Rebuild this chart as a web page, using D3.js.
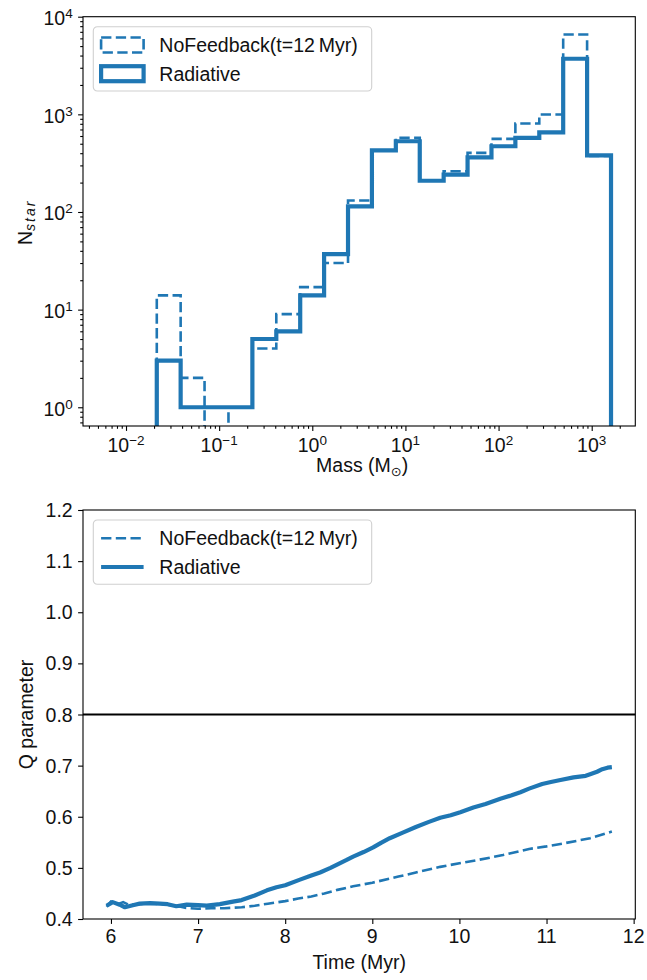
<!DOCTYPE html>
<html>
<head>
<meta charset="utf-8">
<script src="https://cdn.jsdelivr.net/npm/d3@7"></script>
<style>
  html, body { margin: 0; padding: 0; background: #fff; }
  svg { display: block; font-family: "Liberation Sans", Arial, Helvetica, sans-serif; }
</style>
</head>
<body>
<svg id="chart" width="647" height="980"></svg>
<script>
// ---------------- DATA ----------------
// Histogram bin edges (solar masses, log-spaced)
const binEdges = [0.0214, 0.0386, 0.0697, 0.1259, 0.2274, 0.4107, 0.7417, 1.339, 2.419, 4.369,
                  7.889, 14.25, 25.73, 46.47, 83.9, 151.5, 273.6, 494.1, 892.3, 1612];
// Counts per bin
const radiativeCounts  = [3, 1, 1, 1, 5, 6, 14, 37, 114, 428, 530, 209, 241, 363, 471, 574, 655, 3710, 380];
const noFeedbackCounts = [14, 2, 0, 1, 4, 9, 17, 30, 131, 425, 574, 210, 261, 403, 561, 805, 995, 6580, 375];

const massMajorTicks = [0.01, 0.1, 1, 10, 100, 1000];
const massTickExp = ["−2", "−1", "0", "1", "2", "3"];
const countMajorTicks = [1, 10, 100, 1000, 10000];
const countTickExp = ["0", "1", "2", "3", "4"];

// Q parameter time series
const radTime = [5.95, 6.02, 6.1, 6.16, 6.25, 6.33, 6.45, 6.56, 6.65, 6.75, 6.87, 7.0, 7.1, 7.25, 7.4, 7.5,
                 7.65, 7.79, 7.9, 8.0, 8.17, 8.3, 8.4, 8.52, 8.59, 8.7, 8.78, 8.9, 9.01, 9.1, 9.2, 9.35,
                 9.5, 9.65, 9.78, 9.9, 10.01, 10.16, 10.3, 10.47, 10.6, 10.7, 10.8, 10.95, 11.05, 11.16,
                 11.31, 11.45, 11.5, 11.58, 11.64, 11.7, 11.75];
const radQ = [0.426, 0.433, 0.428, 0.423, 0.427, 0.430, 0.431, 0.430, 0.429, 0.425, 0.428, 0.427, 0.426,
              0.429, 0.434, 0.437, 0.446, 0.456, 0.462, 0.466, 0.477, 0.485, 0.491, 0.500, 0.506, 0.515,
              0.522, 0.531, 0.540, 0.549, 0.558, 0.569, 0.580, 0.590, 0.598, 0.603, 0.609, 0.618, 0.625,
              0.635, 0.642, 0.648, 0.655, 0.664, 0.668, 0.672, 0.677, 0.680, 0.683, 0.688, 0.693, 0.696, 0.697];
const noFbTime = [5.95, 6.0, 6.08, 6.14, 6.2, 6.3, 6.45, 6.6, 6.75, 6.85, 7.0, 7.15, 7.3, 7.5, 7.65, 7.8,
                  8.0, 8.15, 8.3, 8.45, 8.6, 8.78, 9.0, 9.3, 9.5, 9.78, 10.0, 10.2, 10.5, 10.8, 11.0, 11.2,
                  11.5, 11.75];
const noFbQ = [0.424, 0.434, 0.429, 0.433, 0.428, 0.429, 0.430, 0.429, 0.426, 0.422, 0.420, 0.421, 0.421,
               0.423, 0.426, 0.430, 0.435, 0.440, 0.444, 0.450, 0.457, 0.464, 0.471, 0.483, 0.491, 0.502,
               0.509, 0.515, 0.525, 0.537, 0.542, 0.548, 0.558, 0.571];
const timeTicks = [6, 7, 8, 9, 10, 11, 12];
const qTicks = [0.4, 0.5, 0.6, 0.7, 0.8, 0.9, 1.0, 1.1, 1.2];
const qThreshold = 0.8;

const legendLabels = ["NoFeedback(t=12\u2009Myr)", "Radiative"];

// ---------------- STYLE ----------------
const blue = "#1f77b4";
const fontSize = 19.5;
const supSize = 13.5;
const majorLen = 4.9, minorLen = 2.8, tickW = 1.1;

const svg = d3.select("#chart");

function styleAxis(g) {
  g.select(".domain").remove();
  g.selectAll(".tick line").attr("stroke", "#000").attr("stroke-width", tickW);
  g.selectAll(".tick text").remove();
}

function frame(g, w, h) {
  g.append("rect").attr("x", 0).attr("y", 0).attr("width", w).attr("height", h)
    .attr("fill", "none").attr("stroke", "#000").attr("stroke-width", 1.1);
}

function legend(g, kind) {
  const lg = g.append("g").attr("transform", "translate(10.3,10)");
  lg.append("rect").attr("x", 0).attr("y", 0).attr("width", 278.4).attr("height", kind === "hist" ? 64.3 : 64.3)
    .attr("rx", 4).attr("ry", 4).attr("fill", "#fff").attr("fill-opacity", 0.8)
    .attr("stroke", "#d0d0d0").attr("stroke-width", 1.1);
  const rowsY = [18.3, 47];
  legendLabels.forEach((lab, i) => {
    const cy = rowsY[i];
    if (kind === "hist") {
      lg.append("rect").attr("x", 7.8).attr("y", cy - 7.5).attr("width", 42.5).attr("height", 15)
        .attr("fill", "none").attr("stroke", blue)
        .attr("stroke-width", i === 0 ? 2.6 : 4.2)
        .attr("stroke-dasharray", i === 0 ? "10.3,4.4" : null);
    } else {
      lg.append("line").attr("x1", 7.8).attr("x2", 50.3).attr("y1", cy).attr("y2", cy)
        .attr("stroke", blue).attr("stroke-width", i === 0 ? 2.6 : 4.2)
        .attr("stroke-dasharray", i === 0 ? "10.3,4.4" : null);
    }
    lg.append("text").attr("x", 66).attr("y", cy + 7).attr("font-size", fontSize).attr("fill", "#111").text(lab);
  });
}

// ================= TOP: HISTOGRAM =================
(function () {
  const L = 83, T = 16.7, R = 635.3, B = 426;
  const w = R - L, h = B - T;
  const g = svg.append("g").attr("transform", `translate(${L},${T})`);
  const x = d3.scaleLog().domain([0.003453, 2938]).range([0, w]);
  const y = d3.scaleLog().domain([0.643, 10000]).range([h, 0]);

  g.append("clipPath").attr("id", "clipTop").append("rect").attr("width", w).attr("height", h);

  // Minor ticks
  const xMinor = [];
  for (let e = -3; e <= 3; e++) for (let m = 2; m <= 9; m++) {
    const v = m * Math.pow(10, e);
    if (v >= x.domain()[0] && v <= x.domain()[1]) xMinor.push(v);
  }
  const yMinor = [];
  for (let e = -1; e <= 3; e++) for (let m = 2; m <= 9; m++) {
    const v = m * Math.pow(10, e);
    if (v >= y.domain()[0] && v <= y.domain()[1]) yMinor.push(v);
  }
  g.append("g").attr("transform", `translate(0,${h})`)
    .call(d3.axisBottom(x).tickValues(xMinor).tickSize(minorLen).tickFormat("")).call(styleAxis);
  g.append("g").call(d3.axisLeft(y).tickValues(yMinor).tickSize(minorLen).tickFormat("")).call(styleAxis);
  g.append("g").attr("transform", `translate(0,${h})`)
    .call(d3.axisBottom(x).tickValues(massMajorTicks).tickSize(majorLen).tickFormat("")).call(styleAxis);
  g.append("g").call(d3.axisLeft(y).tickValues(countMajorTicks).tickSize(majorLen).tickFormat("")).call(styleAxis);

  // Tick labels with superscripts
  massMajorTicks.forEach((v, i) => {
    const t = g.append("text").attr("x", x(v)).attr("y", h + 25.7).attr("text-anchor", "middle")
      .attr("font-size", fontSize).attr("fill", "#111");
    t.append("tspan").text("10");
    t.append("tspan").attr("dy", -7).attr("font-size", supSize).text(massTickExp[i]);
  });
  countMajorTicks.forEach((v, i) => {
    const t = g.append("text").attr("x", -10.3).attr("y", y(v) + 8.3).attr("text-anchor", "end")
      .attr("font-size", fontSize).attr("fill", "#111");
    t.append("tspan").text("10");
    t.append("tspan").attr("dy", -7).attr("font-size", supSize).text(countTickExp[i]);
  });

  // Step paths
  function stepPts(counts) {
    const pts = [[binEdges[0], 0]];
    counts.forEach((c, i) => { pts.push([binEdges[i], c]); pts.push([binEdges[i + 1], c]); });
    pts.push([binEdges[binEdges.length - 1], 0]);
    return pts;
  }
  const line = d3.line().x(d => x(d[0])).y(d => d[1] > 0 ? y(d[1]) : h + 30);
  const plot = g.append("g").attr("clip-path", "url(#clipTop)");
  plot.append("path").attr("d", line(stepPts(noFeedbackCounts))).attr("fill", "none")
    .attr("stroke", blue).attr("stroke-width", 2.6).attr("stroke-dasharray", "10.3,4.4");
  plot.append("path").attr("d", line(stepPts(radiativeCounts))).attr("fill", "none")
    .attr("stroke", blue).attr("stroke-width", 4.2).attr("stroke-linejoin", "miter");

  frame(g, w, h);
  legend(g, "hist");

  // Axis labels
  const xl = svg.append("text").attr("x", L + w / 2 + 3).attr("y", 471.5).attr("text-anchor", "middle")
    .attr("font-size", fontSize).attr("fill", "#111");
  xl.append("tspan").text("Mass (M");
  xl.append("tspan").attr("dy", 4).attr("font-size", 13).attr("font-family", "DejaVu Sans").text("\u2299");
  xl.append("tspan").attr("dy", -4).text(")");

  const yl = svg.append("text").attr("transform", `translate(31.7,${T + h / 2 + 1}) rotate(-90)`)
    .attr("text-anchor", "middle").attr("font-size", fontSize).attr("fill", "#111");
  yl.append("tspan").text("N");
  yl.append("tspan").attr("dy", 3).attr("font-size", 14).attr("font-style", "italic")
    .attr("letter-spacing", 2).text("star");
})();

// ================= BOTTOM: Q PARAMETER =================
(function () {
  const L = 83, T = 510, R = 635.3, B = 919;
  const w = R - L, h = B - T;
  const g = svg.append("g").attr("transform", `translate(${L},${T})`);
  const x = d3.scaleLinear().domain([5.679, 12.019]).range([0, w]);
  const y = d3.scaleLinear().domain([0.4, 1.2]).range([h, 0]);

  g.append("g").attr("transform", `translate(0,${h})`)
    .call(d3.axisBottom(x).tickValues(timeTicks).tickSize(majorLen).tickFormat("")).call(styleAxis);
  g.append("g").call(d3.axisLeft(y).tickValues(qTicks).tickSize(majorLen).tickFormat("")).call(styleAxis);

  timeTicks.forEach(v => {
    g.append("text").attr("x", x(v)).attr("y", h + 24.3).attr("text-anchor", "middle")
      .attr("font-size", fontSize).attr("fill", "#111").text(d3.format("d")(v));
  });
  qTicks.forEach(v => {
    g.append("text").attr("x", -10.3).attr("y", y(v) + 7).attr("text-anchor", "end")
      .attr("font-size", fontSize).attr("fill", "#111").text(d3.format(".1f")(v));
  });

  g.append("line").attr("x1", 0).attr("x2", w).attr("y1", y(qThreshold)).attr("y2", y(qThreshold))
    .attr("stroke", "#000").attr("stroke-width", 1.8);

  const line = d3.line().x(d => x(d[0])).y(d => y(d[1]));
  g.append("path").attr("d", line(noFbTime.map((t, i) => [t, noFbQ[i]]))).attr("fill", "none")
    .attr("stroke", blue).attr("stroke-width", 2.6).attr("stroke-dasharray", "10.3,4.4");
  g.append("path").attr("d", line(radTime.map((t, i) => [t, radQ[i]]))).attr("fill", "none")
    .attr("stroke", blue).attr("stroke-width", 4.2).attr("stroke-linejoin", "round");

  frame(g, w, h);
  legend(g, "line");

  svg.append("text").attr("x", L + w / 2).attr("y", 969.3).attr("text-anchor", "middle")
    .attr("font-size", fontSize).attr("fill", "#111").text("Time (Myr)");
  svg.append("text").attr("transform", `translate(32.5,${T + h / 2}) rotate(-90)`)
    .attr("text-anchor", "middle").attr("font-size", fontSize).attr("fill", "#111").text("Q parameter");
})();
</script>
</body>
</html>
